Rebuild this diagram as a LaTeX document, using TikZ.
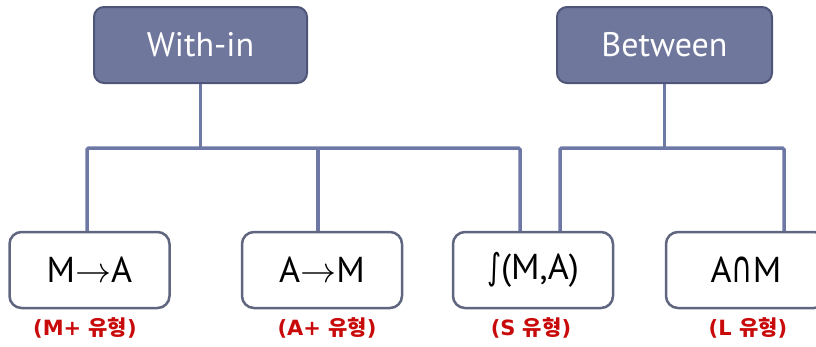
\documentclass[tikz,border=0pt]{standalone}
\usepackage{fix-cm}
\usepackage{graphicx}
\usepackage{fontspec}
\setmainfont{PT Sans}
\newfontfamily\symf{DejaVu Sans}
\newfontfamily\labf{DejaVu Sans}
\newfontfamily\kr{Noto Sans CJK KR}
\definecolor{headfill}{RGB}{111,119,156}
\definecolor{headdraw}{RGB}{78,85,120}
\definecolor{conncol}{RGB}{110,120,165}
\definecolor{leafdraw}{RGB}{96,102,128}
\definecolor{labred}{RGB}{200,10,10}
\begin{document}
\begin{tikzpicture}[x=1pt,y=-1pt,
  head/.style={draw=headdraw, line width=2pt, fill=headfill, rounded corners=10pt,
    minimum height=76pt, inner sep=0pt, text=white, font=\fontsize{34}{40}\selectfont},
  leaf/.style={draw=leafdraw, line width=2.5pt, fill=white, rounded corners=12pt,
    minimum width=160pt, minimum height=76pt, inner sep=0pt, font=\fontsize{36}{40}\selectfont},
  conn/.style={draw=conncol, line width=3.5pt, rounded corners=1.5pt},
  lab/.style={text=labred, inner sep=0pt, font=\labf\bfseries\fontsize{21}{24}\selectfont}]
\useasboundingbox (0,0) rectangle (816,346);
\clip (0,0) rectangle (816,346);
% junction coordinates
\coordinate (wh) at (0,148);
\coordinate (s3a) at (520,232);
\coordinate (s3b) at (560,232);
\coordinate (s4) at (784,232);
% header boxes
\node[head, minimum width=213pt] (win) at (200.5,45) {With-in};
\node[head, minimum width=215pt] (btw) at (664.5,45) {Between};
% connectors
\draw[conn] (win.south) -- (win.south |- wh);
\draw[conn] (btw.south) -- (btw.south |- wh);
\draw[conn] (87,232) |- (s3a |- wh) -- (s3a);
\draw[conn] (318,232) -- (318,148);
\draw[conn] (s3b) |- (s4 |- wh) -- (s4);
% leaf boxes
\node[leaf] (b1) at (89.5,270) {M$\rightarrow$A};
\node[leaf] (b2) at (322,270) {A$\rightarrow$M};
\node[leaf] (b3) at (533,270) {{\symf\fontsize{30}{36}\selectfont\scalebox{0.9}[1.2]{∫}}(M,A)};
\node[leaf] (b4) at (746,270) {A{\symf\fontsize{34}{40}\selectfont\scalebox{0.85}[1.3]{∩}}M};
% labels
\node[lab] (l1) at (85,328) {(M+ {\kr 유형})};
\node[lab] (l2) at (327,328) {(A+ {\kr 유형})};
\node[lab] (l3) at (531,328) {(S {\kr 유형})};
\node[lab] (l4) at (748,328) {(L {\kr 유형})};
\end{tikzpicture}
\end{document}
